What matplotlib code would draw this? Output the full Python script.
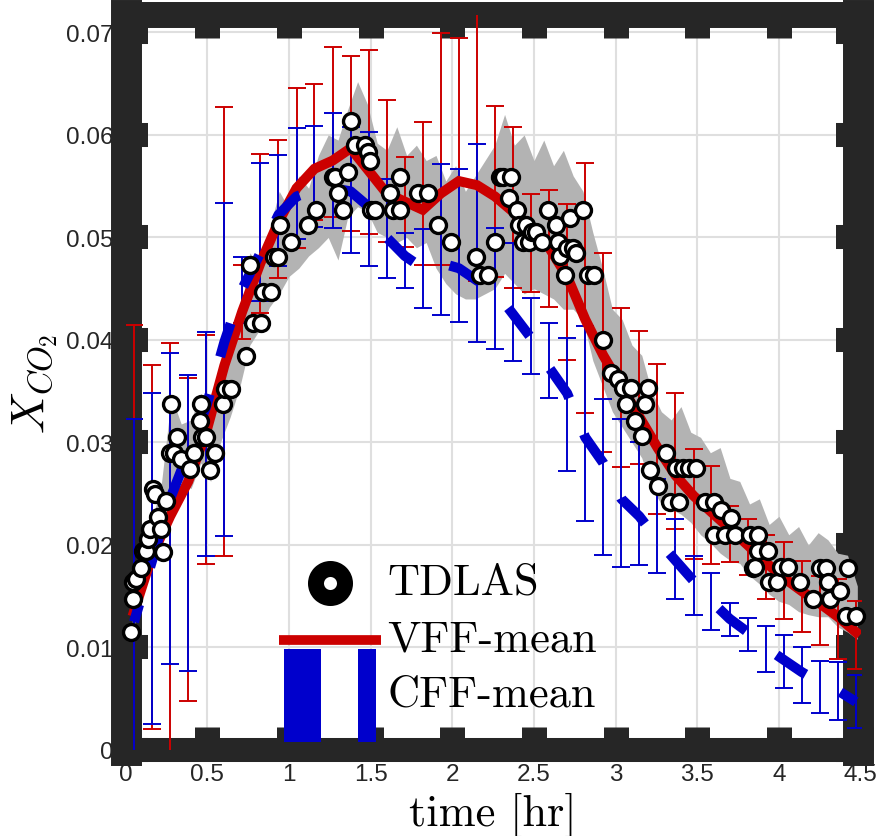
import numpy as np
import matplotlib
matplotlib.use('Agg')
import matplotlib.pyplot as plt
from matplotlib.patches import Rectangle
from matplotlib.lines import Line2D

plt.rcParams['mathtext.fontset'] = 'cm'
plt.rcParams['axes.unicode_minus'] = False

# ---------------------------------------------------------------- data
# TDLAS measurements
tdlas_t = [0.035, 0.045, 0.045, 0.065, 0.096, 0.106, 0.127, 0.137, 0.147, 0.170,
           0.180, 0.198, 0.218, 0.228, 0.249, 0.270, 0.280, 0.295, 0.314, 0.341,
           0.392, 0.420, 0.453, 0.463, 0.470, 0.490, 0.514, 0.545, 0.596, 0.606,
           0.647, 0.739, 0.759, 0.780, 0.830, 0.840, 0.890, 0.910, 0.930, 0.943,
           1.015, 1.116, 1.168, 1.270, 1.280, 1.300, 1.330, 1.361, 1.382, 1.402,
           1.464, 1.484, 1.498, 1.505, 1.525, 1.617, 1.637, 1.678, 1.678, 1.790,
           1.850, 1.912, 1.994, 2.148, 2.170, 2.220, 2.260, 2.290, 2.310, 2.347,
           2.360, 2.396, 2.410, 2.450, 2.430, 2.470, 2.490, 2.510, 2.550, 2.586,
           2.637, 2.647, 2.660, 2.688, 2.700, 2.720, 2.740, 2.760, 2.800, 2.830,
           2.870, 2.923, 2.974, 3.015, 3.045, 3.066, 3.097, 3.117, 3.162, 3.178,
           3.198, 3.209, 3.260, 3.311, 3.330, 3.370, 3.390, 3.410, 3.450, 3.490,
           3.550, 3.600, 3.600, 3.648, 3.670, 3.709, 3.730, 3.820, 3.840, 3.852,
           3.870, 3.870, 3.930, 3.940, 3.990, 4.015, 4.056, 4.127, 4.209, 4.250,
           4.290, 4.300, 4.311, 4.372, 4.410, 4.423, 4.470]
tdlas_x = [0.0115, 0.0147, 0.0164, 0.0167, 0.0178, 0.0194, 0.0194, 0.0206, 0.0216, 0.0255,
           0.0250, 0.0227, 0.0216, 0.0193, 0.0243, 0.0290, 0.0338, 0.0290, 0.0305, 0.0284,
           0.0274, 0.0290, 0.0321, 0.0338, 0.0305, 0.0305, 0.0273, 0.0290, 0.0338, 0.0352,
           0.0352, 0.0384, 0.0473, 0.0417, 0.0417, 0.0447, 0.0447, 0.0481, 0.0481, 0.0512,
           0.0496, 0.0512, 0.0527, 0.0559, 0.0559, 0.0543, 0.0527, 0.0564, 0.0614, 0.0590,
           0.0590, 0.0583, 0.0575, 0.0527, 0.0527, 0.0543, 0.0527, 0.0527, 0.0559, 0.0543,
           0.0543, 0.0512, 0.0496, 0.0481, 0.0463, 0.0463, 0.0496, 0.0559, 0.0559, 0.0538,
           0.0559, 0.0527, 0.0512, 0.0512, 0.0496, 0.0496, 0.0505, 0.0505, 0.0496, 0.0527,
           0.0512, 0.0496, 0.0482, 0.0463, 0.0490, 0.0519, 0.0490, 0.0485, 0.0527, 0.0463,
           0.0463, 0.0400, 0.0368, 0.0362, 0.0353, 0.0338, 0.0353, 0.0321, 0.0306, 0.0338,
           0.0353, 0.0273, 0.0258, 0.0290, 0.0242, 0.0275, 0.0242, 0.0275, 0.0275, 0.0275,
           0.0242, 0.0242, 0.0210, 0.0234, 0.0210, 0.0226, 0.0210, 0.0210, 0.0178, 0.0179,
           0.0210, 0.0194, 0.0194, 0.0164, 0.0164, 0.0179, 0.0179, 0.0164, 0.0147, 0.0178,
           0.0178, 0.0164, 0.0147, 0.0155, 0.0131, 0.0178, 0.0131]

# grey envelope of the TDLAS signal
band_t = [0.04, 0.10, 0.16, 0.22, 0.28, 0.34, 0.40, 0.46, 0.52, 0.58,
          0.64, 0.70, 0.76, 0.82, 0.88, 0.94, 1.00, 1.06, 1.12, 1.18,
          1.24, 1.30, 1.36, 1.42, 1.48, 1.54, 1.60, 1.66, 1.72, 1.78,
          1.84, 1.90, 1.96, 2.02, 2.08, 2.14, 2.20, 2.26, 2.32, 2.38,
          2.44, 2.50, 2.56, 2.62, 2.68, 2.74, 2.80, 2.86, 2.92, 2.98,
          3.04, 3.10, 3.16, 3.22, 3.28, 3.34, 3.40, 3.46, 3.52, 3.58,
          3.64, 3.70, 3.76, 3.82, 3.88, 3.94, 4.00, 4.06, 4.12, 4.18,
          4.24, 4.30, 4.36, 4.42, 4.48]
band_hi = [0.0130, 0.0192, 0.0222, 0.0262, 0.0345, 0.0318, 0.0322, 0.0348, 0.0330, 0.0372,
           0.0382, 0.0420, 0.0485, 0.0472, 0.0508, 0.0545, 0.0528, 0.0560, 0.0548, 0.0580,
           0.0600, 0.0595, 0.0625, 0.0652, 0.0630, 0.0592, 0.0585, 0.0608, 0.0580, 0.0590,
           0.0575, 0.0580, 0.0555, 0.0570, 0.0545, 0.0560, 0.0575, 0.0590, 0.0620, 0.0590,
           0.0600, 0.0575, 0.0595, 0.0570, 0.0585, 0.0560, 0.0545, 0.0505, 0.0470, 0.0430,
           0.0420, 0.0395, 0.0385, 0.0350, 0.0330, 0.0322, 0.0335, 0.0310, 0.0305, 0.0290,
           0.0295, 0.0265, 0.0262, 0.0240, 0.0245, 0.0220, 0.0228, 0.0210, 0.0218, 0.0200,
           0.0212, 0.0205, 0.0192, 0.0190, 0.0160]
band_lo = [0.0112, 0.0158, 0.0186, 0.0196, 0.0240, 0.0262, 0.0255, 0.0280, 0.0262, 0.0300,
           0.0325, 0.0355, 0.0395, 0.0410, 0.0432, 0.0445, 0.0462, 0.0470, 0.0482, 0.0490,
           0.0500, 0.0478, 0.0520, 0.0530, 0.0525, 0.0505, 0.0500, 0.0495, 0.0500, 0.0490,
           0.0495, 0.0470, 0.0455, 0.0445, 0.0440, 0.0440, 0.0445, 0.0450, 0.0465, 0.0455,
           0.0445, 0.0450, 0.0445, 0.0440, 0.0430, 0.0430, 0.0420, 0.0380, 0.0355, 0.0330,
           0.0315, 0.0300, 0.0285, 0.0255, 0.0240, 0.0235, 0.0230, 0.0222, 0.0210, 0.0202,
           0.0192, 0.0185, 0.0182, 0.0170, 0.0162, 0.0152, 0.0145, 0.0142, 0.0135, 0.0132,
           0.0130, 0.0130, 0.0120, 0.0115, 0.0108]

# model time grid, means and error bar limits
model_t = [0.051, 0.162, 0.272, 0.383, 0.493, 0.604, 0.714, 0.825, 0.935, 1.046,
           1.156, 1.267, 1.377, 1.488, 1.598, 1.709, 1.819, 1.930, 2.040, 2.151,
           2.261, 2.372, 2.482, 2.593, 2.703, 2.814, 2.924, 3.035, 3.145, 3.256,
           3.366, 3.477, 3.587, 3.698, 3.808, 3.919, 4.029, 4.140, 4.250, 4.361,
           4.471]
vff_mean = [0.0135, 0.0190, 0.0228, 0.0262, 0.0310, 0.0375, 0.0428, 0.0475, 0.0515, 0.0548,
            0.0567, 0.0575, 0.0587, 0.0565, 0.0543, 0.0535, 0.0527, 0.0543, 0.0555, 0.0551,
            0.0540, 0.0525, 0.0510, 0.0490, 0.0462, 0.0420, 0.0385, 0.0355, 0.0325, 0.0295,
            0.0268, 0.0248, 0.0232, 0.0216, 0.0200, 0.0183, 0.0168, 0.0155, 0.0143, 0.0130,
            0.0115]
vff_lo = [-0.004, 0.0020, -0.002, 0.0048, 0.0181, 0.0189, 0.0401, 0.0426, 0.0460, 0.0490,
          0.0517, 0.0520, 0.0506, 0.0503, 0.0496, 0.0491, 0.0473, 0.0473, 0.0468, 0.0458,
          0.0461, 0.0451, 0.0447, 0.0432, 0.0380, 0.0329, 0.0291, 0.0276, 0.0279, 0.0230,
          0.0216, 0.0186, 0.0181, 0.0183, 0.0171, 0.0147, 0.0128, 0.0115, 0.0102, 0.0089,
          0.0079]
vff_hi = [0.0415, 0.0376, 0.0397, 0.0363, 0.0405, 0.0627, 0.0473, 0.0581, 0.0595, 0.0646,
          0.0650, 0.0686, 0.0677, 0.0683, 0.0634, 0.0578, 0.0613, 0.0699, 0.0695, 0.0730,
          0.0628, 0.0608, 0.0542, 0.0546, 0.0533, 0.0573, 0.0485, 0.0431, 0.0409, 0.0377,
          0.0348, 0.0294, 0.0277, 0.0238, 0.0225, 0.0210, 0.0203, 0.0184, 0.0170, 0.0167,
          0.0145]
cff_mean = [0.0125, 0.0185, 0.0245, 0.0290, 0.0335, 0.0398, 0.0450, 0.0485, 0.0522, 0.0540,
            0.0546, 0.0548, 0.0545, 0.0530, 0.0500, 0.0482, 0.0470, 0.0475, 0.0470, 0.0458,
            0.0448, 0.0425, 0.0402, 0.0373, 0.0348, 0.0305, 0.0280, 0.0245, 0.0228, 0.0205,
            0.0185, 0.0165, 0.0145, 0.0128, 0.0115, 0.0100, 0.0088, 0.0076, 0.0066, 0.0058,
            0.0047]
cff_lo = [-0.004, 0.0025, 0.0084, 0.0077, 0.0189, 0.0209, 0.0417, 0.0438, 0.0472, 0.0498,
          0.0510, 0.0509, 0.0485, 0.0472, 0.0460, 0.0451, 0.0431, 0.0424, 0.0418, 0.0398,
          0.0391, 0.0379, 0.0367, 0.0343, 0.0272, 0.0223, 0.0190, 0.0179, 0.0180, 0.0173,
          0.0147, 0.0132, 0.0117, 0.0111, 0.0097, 0.0076, 0.0060, 0.0046, 0.0036, 0.0029,
          0.0021]
cff_hi = [0.0323, 0.0348, 0.0387, 0.0366, 0.0408, 0.0534, 0.0481, 0.0573, 0.0580, 0.0607,
          0.0609, 0.0621, 0.0608, 0.0603, 0.0557, 0.0504, 0.0508, 0.0572, 0.0567, 0.0591,
          0.0509, 0.0495, 0.0441, 0.0417, 0.0402, 0.0414, 0.0342, 0.0323, 0.0300, 0.0264,
          0.0225, 0.0189, 0.0173, 0.0143, 0.0129, 0.0121, 0.0112, 0.0100, 0.0087, 0.0086,
          0.0073]

xticks = [0, 0.5, 1, 1.5, 2, 2.5, 3, 3.5, 4, 4.5]
xtick_labels = ['0', '0.5', '1', '1.5', '2', '2.5', '3', '3.5', '4', '4.5']
yticks = [0, 0.01, 0.02, 0.03, 0.04, 0.05, 0.06, 0.07]
ytick_labels = ['0', '0.01', '0.02', '0.03', '0.04', '0.05', '0.06', '0.07']
legend_labels = ['TDLAS', 'VFF-mean', 'CFF-mean']

red = '#cc0000'
blue = '#0000cc'
frame = '#262626'

W, H = 877, 837
fig = plt.figure(figsize=(W / 100, H / 100), dpi=100)
ax = fig.add_axes([125.7 / W, 1 - 751 / H, 734.9 / W, 735 / H])


def fxy(px, py):
    return px / W, 1 - py / H


# grid drawn under the tick marks, thick frame on top
for t in xticks:
    ax.axvline(t, color='#dfdfdf', lw=1.5, zorder=1)
for t in yticks:
    ax.axhline(t, color='#dfdfdf', lw=1.5, zorder=1)
for side, lw in [('left', 22.3), ('right', 22.3), ('top', 18.7), ('bottom', 17.3)]:
    ax.spines[side].set_linewidth(lw)
    ax.spines[side].set_color(frame)
ax.spines['right'].set_position(('outward', -2.2))
ax.tick_params(axis='x', which='both', direction='in', top=True, length=16.8, width=18,
               color=frame, pad=9.5, labelsize=17.5, labelcolor=frame)
ax.tick_params(axis='y', which='both', direction='in', right=True, length=15.8, width=17.3,
               color=frame, pad=8.5, labelsize=17.5, labelcolor=frame)

ax.set_xlim(0, 4.5)
ax.set_ylim(0, 0.0717)
ax.set_xticks(xticks)
ax.set_xticklabels(xtick_labels, fontfamily='Liberation Sans')
ax.set_yticks(yticks)
ax.set_yticklabels(ytick_labels, fontfamily='Liberation Sans')

# data
ax.fill_between(band_t, band_lo, band_hi, color='#b3b3b3', lw=0, zorder=3)

vlo, vhi = np.array(vff_lo), np.array(vff_hi)
clo, chi = np.array(cff_lo), np.array(cff_hi)
ax.errorbar(model_t, (vlo + vhi) / 2, yerr=(vhi - vlo) / 2, fmt='none', ecolor=red,
            elinewidth=1.4, capsize=6.8, capthick=1.4, zorder=3.2)
ax.errorbar(model_t, (clo + chi) / 2, yerr=(chi - clo) / 2, fmt='none', ecolor=blue,
            elinewidth=1.4, capsize=6.8, capthick=1.4, zorder=3.3)

ax.plot(model_t, vff_mean, color=red, lw=7.2, solid_joinstyle='miter', zorder=3.4)
ax.plot(model_t, cff_mean, color=blue, lw=7.2, linestyle=(1.7, (3.5, 3.9)), zorder=3.5)

ax.plot(tdlas_t, tdlas_x, 'o', ms=11.5, mfc='white', mec='black', mew=2.4,
        zorder=3.6, clip_on=False)

# labels
ax.set_xlabel('time [hr]', fontfamily='cmr10', fontsize=32)
ax.xaxis.set_label_coords(0.5, -0.057)
ax.set_ylabel(r'$X_{CO_2}$', fontsize=34)
ax.yaxis.set_label_coords(-0.089, 0.5)

# legend (drawn by hand to mimic the original rendering)
x, y = fxy(330, 584)
ax.add_line(Line2D([x], [y], marker='o', ms=20.9, mew=11.5, mfc='white', mec='black',
                   transform=fig.transFigure, clip_on=False, zorder=10))
x0, y0 = fxy(279.3, 640.5)
x1, _ = fxy(381, 640.5)
ax.add_line(Line2D([x0, x1], [y0, y0], color=red, lw=7.0, solid_capstyle='butt',
                   transform=fig.transFigure, clip_on=False, zorder=10))
for left, right in [(284, 321), (357.7, 376)]:
    bx, by = fxy(left, 742.7)
    ax.add_patch(Rectangle((bx, by), (right - left) / W, (742.7 - 650) / H, color=blue,
                           lw=0, transform=fig.transFigure, clip_on=False, zorder=10))
for label, base in zip(legend_labels, [595, 651.7, 706.7]):
    tx, ty = fxy(387, base)
    ax.text(tx, ty, label, fontfamily='cmr10', fontsize=32, va='baseline', ha='left',
            transform=fig.transFigure, zorder=10)

fig.savefig('out.png', dpi=100)
